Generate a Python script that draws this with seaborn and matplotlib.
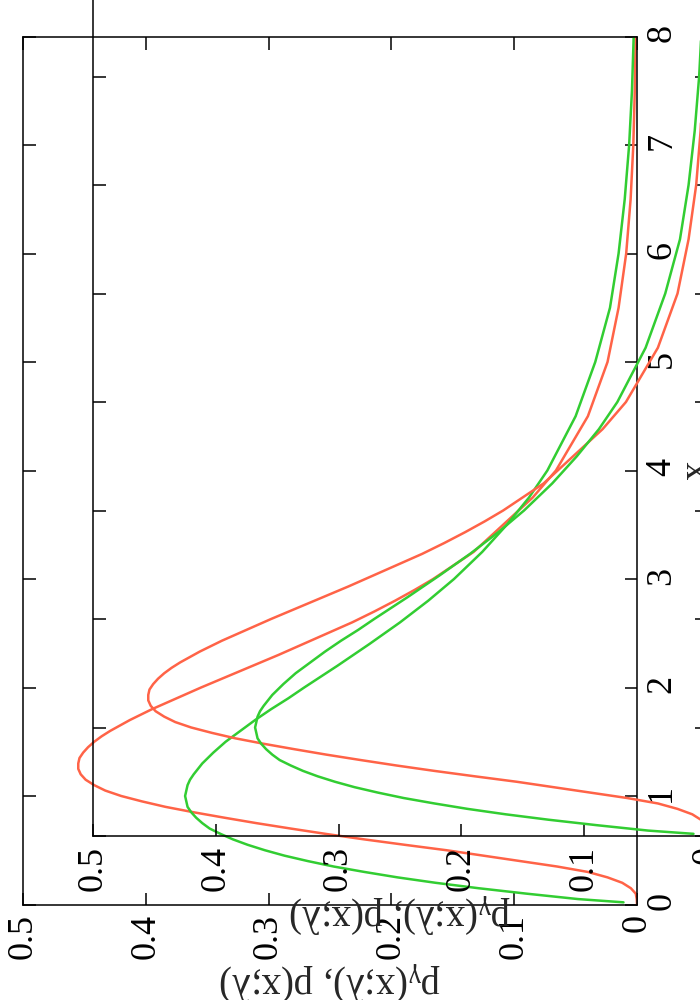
import matplotlib
matplotlib.use('Agg')
import matplotlib.pyplot as plt
import seaborn as sns

# x grid for the red curve (vertical axis in the rotated picture)
x_red = [0, 0.05, 0.1, 0.15, 0.2, 0.25, 0.3, 0.35, 0.4, 0.45, 0.5, 0.55, 0.6,
         0.65, 0.7, 0.75, 0.8, 0.85, 0.9, 0.95, 1.0, 1.05, 1.1, 1.15, 1.2,
         1.25, 1.3, 1.35, 1.4, 1.45, 1.5, 1.55, 1.6, 1.65, 1.7, 1.75, 1.8,
         1.85, 1.9, 1.95, 2.0, 2.1, 2.2, 2.3, 2.4, 2.5, 2.6, 2.7, 2.8, 2.9,
         3.0, 3.25, 3.5, 3.75, 4.0, 4.5, 5.0, 5.5, 6.0, 6.5, 7.0, 7.5, 8.0]
# p(x;lambda), red curve
p_exact = [0, 0.0002, 0.001, 0.005, 0.012, 0.024, 0.040, 0.065, 0.095, 0.125,
           0.155, 0.189, 0.222, 0.253, 0.282, 0.310, 0.336, 0.361, 0.384,
           0.403, 0.420, 0.433, 0.442, 0.449, 0.453, 0.455, 0.455, 0.454,
           0.451, 0.447, 0.442, 0.436, 0.429, 0.421, 0.413, 0.404, 0.395,
           0.385, 0.375, 0.365, 0.355, 0.334, 0.313, 0.292, 0.272, 0.252,
           0.232, 0.214, 0.197, 0.181, 0.166, 0.133, 0.109, 0.085, 0.066,
           0.040, 0.024, 0.015, 0.0088, 0.0052, 0.0030, 0.0018, 0.0011]

x_green = [0.02, 0.05, 0.1, 0.15, 0.2, 0.25, 0.3, 0.35, 0.4, 0.45, 0.5, 0.55,
           0.6, 0.65, 0.7, 0.75, 0.8, 0.85, 0.9, 0.95, 1.0, 1.05, 1.1, 1.15,
           1.2, 1.3, 1.4, 1.5, 1.6, 1.7, 1.8, 1.9, 2.0, 2.2, 2.4, 2.6, 2.8,
           3.0, 3.25, 3.5, 3.75, 4.0, 4.5, 5.0, 5.5, 6.0, 6.5, 7.0, 7.5, 8.0]
# p_gamma(x;lambda), green curve
p_gamma = [0.011, 0.048, 0.090, 0.129, 0.164, 0.195, 0.222, 0.247, 0.268,
           0.287, 0.303, 0.317, 0.329, 0.339, 0.348, 0.354, 0.359, 0.363,
           0.366, 0.367, 0.368, 0.367, 0.366, 0.364, 0.361, 0.354, 0.345,
           0.335, 0.323, 0.311, 0.298, 0.284, 0.271, 0.244, 0.218, 0.193,
           0.170, 0.149, 0.126, 0.106, 0.088, 0.073, 0.050, 0.034, 0.022,
           0.015, 0.010, 0.0064, 0.0041, 0.0027]

p_ticks = [0, 0.1, 0.2, 0.3, 0.4, 0.5]
x_ticks = [0, 1, 2, 3, 4, 5, 6, 7, 8]

sns.set_style('ticks')
plt.rcParams['font.family'] = ['Liberation Serif', 'DejaVu Serif']
plt.rcParams['mathtext.fontset'] = 'custom'
plt.rcParams['mathtext.rm'] = 'Liberation Serif'
plt.rcParams['mathtext.it'] = 'Liberation Serif'

RED = '#ff6347'
GREEN = '#32cd32'
W, H = 700, 1000
AW, AH = 614, 868

fig = plt.figure(figsize=(7, 10), dpi=100)


def panel(left_px, top_px):
    ax = fig.add_axes([left_px / W, 1 - (top_px + AH) / H, AW / W, AH / H])
    ax.patch.set_alpha(0)
    sns.lineplot(x=p_exact, y=x_red, sort=False, estimator=None,
                 color=RED, lw=1.8, ax=ax)
    sns.lineplot(x=p_gamma, y=x_green, sort=False, estimator=None,
                 color=GREEN, lw=1.8, ax=ax)
    ax.set_xlim(0.5, 0)
    ax.set_ylim(0, 8)
    ax.set_xticks(p_ticks)
    ax.set_xticklabels([f'{t:g}' for t in p_ticks])
    ax.set_yticks(x_ticks)
    for s in ax.spines.values():
        s.set_linewidth(1.1)
        s.set_color('black')
    ax.tick_params(direction='in', length=9, width=1.1, top=True, bottom=True,
                   left=True, right=True, labelleft=False, labelright=True,
                   labelsize=26, colors='black')
    ax.tick_params(axis='x', labelrotation=90, pad=7)
    ax.tick_params(axis='y', labelrotation=90, pad=6)
    ax.set_xlabel(r'p$_{\mathrm{γ}}$(x;λ), p(x;λ)', rotation=180,
                  fontsize=28, labelpad=0)
    ax.yaxis.set_label_position('right')
    ax.set_ylabel('x', rotation=90, fontsize=28, labelpad=0)
    return ax


# the picture holds two copies of the same rotated plot, the second offset
panel(23, 36.5)
panel(93, -32)

fig.savefig('out.png', dpi=100)
